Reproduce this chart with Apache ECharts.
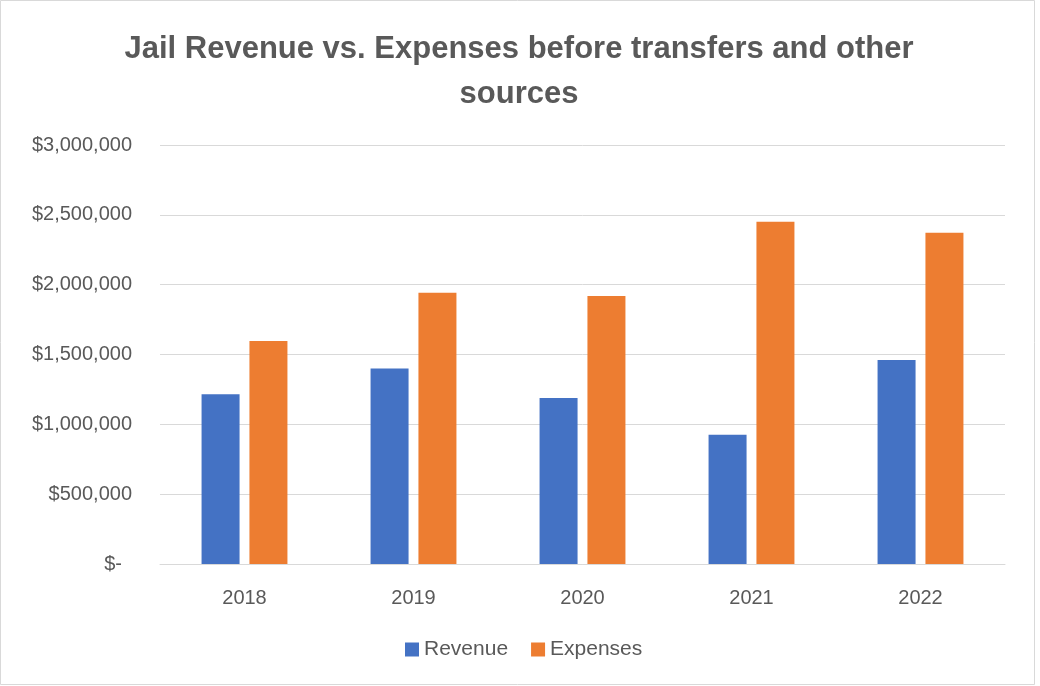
<!DOCTYPE html>
<html>
<head>
<meta charset="utf-8">
<script src="https://cdn.jsdelivr.net/npm/echarts@6/dist/echarts.min.js"></script>
<style>
  html, body { margin: 0; padding: 0; background: #fff; }
  #main { width: 1040px; height: 686px; }
</style>
</head>
<body>
<div id="main"></div>
<script>
var years = ['2018', '2019', '2020', '2021', '2022'];
var revenue = [1216000, 1400000, 1189000, 926000, 1460000];
var expenses = [1596000, 1943000, 1919000, 2450000, 2371000];
var yTicks = { min: 0, max: 3000000, step: 500000 };

var chartDom = document.getElementById('main');
var myChart = echarts.init(chartDom);
var option;

var grayText = '#595959';
var font = 'Liberation Sans';

option = {
  animation: false,
  backgroundColor: '#fff',
  textStyle: { fontFamily: font },
  graphic: [
    {
      type: 'rect',
      shape: { x: 0.5, y: 0.5, width: 1034, height: 684 },
      style: { fill: null, stroke: '#d9d9d9', lineWidth: 1 },
      silent: true
    }
  ],
  title: {
    text: 'Jail Revenue vs. Expenses before transfers and other\nsources',
    left: 514,
    textAlign: 'center',
    top: 22,
    textStyle: {
      fontFamily: font,
      fontSize: 31,
      fontWeight: 'bold',
      color: grayText,
      lineHeight: 45
    }
  },
  legend: {
    left: 405,
    top: 639,
    padding: 0,
    itemWidth: 14,
    itemHeight: 14,
    itemGap: 23,
    icon: 'rect',
    textStyle: { fontFamily: font, fontSize: 21, color: grayText },
    data: ['Revenue', 'Expenses']
  },
  grid: {
    left: 160,
    right: 35,
    top: 145,
    bottom: 122,
    containLabel: false
  },
  xAxis: {
    type: 'category',
    data: years,
    axisLine: { lineStyle: { color: '#d9d9d9', width: 1 } },
    axisTick: { show: false },
    axisLabel: { color: grayText, fontSize: 20, margin: 24, fontFamily: font }
  },
  yAxis: {
    type: 'value',
    min: yTicks.min,
    max: yTicks.max,
    interval: yTicks.step,
    axisLine: { show: false },
    axisTick: { show: false },
    splitLine: { lineStyle: { color: '#d9d9d9', width: 1 } },
    axisLabel: {
      color: grayText,
      fontSize: 20,
      margin: 28,
      fontFamily: font,
      formatter: function (v) {
        if (v === 0) return '{z|$-}';
        return '$' + v.toLocaleString('en-US');
      },
      rich: {
        z: { color: grayText, fontSize: 20, fontFamily: font, padding: [0, 10, 0, 0] }
      }
    }
  },
  series: [
    {
      name: 'Revenue',
      type: 'bar',
      data: revenue,
      barWidth: 38,
      barGap: '26%',
      itemStyle: { color: '#4472C4' }
    },
    {
      name: 'Expenses',
      type: 'bar',
      data: expenses,
      barWidth: 38,
      barGap: '26%',
      itemStyle: { color: '#ED7D31' }
    }
  ]
};

option && myChart.setOption(option);
</script>
</body>
</html>
